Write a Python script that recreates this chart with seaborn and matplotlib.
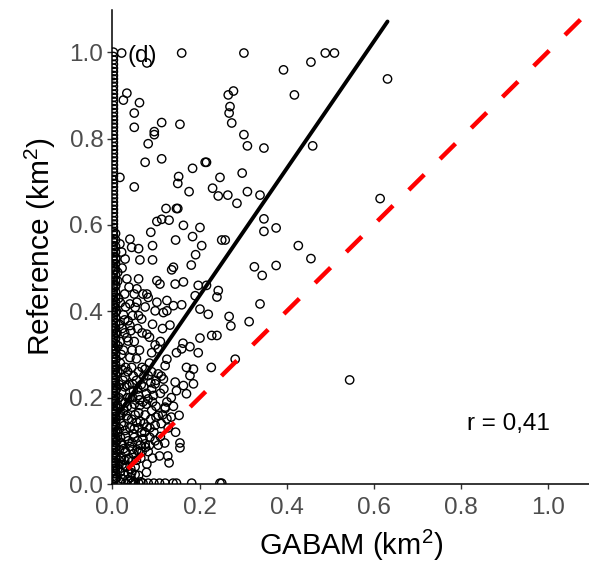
import matplotlib
matplotlib.use("Agg")
import matplotlib.pyplot as plt
import seaborn as sns
import pandas as pd

# ---------------- data ----------------
# points stacked on the Y axis (GABAM area ~ 0)
column_gabam = 0.002
column_ref = [1.0, 0.99, 0.982, 0.972, 0.963, 0.955, 0.946, 0.938, 0.93, 0.921,
              0.912, 0.903, 0.895, 0.886, 0.877, 0.869, 0.86, 0.851, 0.843, 0.834,
              0.826, 0.817, 0.808, 0.80, 0.791, 0.782, 0.774, 0.765, 0.756, 0.748,
              0.739, 0.73, 0.722, 0.713, 0.705, 0.696, 0.688, 0.679, 0.67, 0.662,
              0.653, 0.645, 0.636, 0.628, 0.619, 0.61, 0.602, 0.594, 0.585, 0.577,
              0.568, 0.56, 0.552, 0.543, 0.535, 0.527, 0.518, 0.51, 0.502, 0.494,
              0.486, 0.478, 0.47, 0.462, 0.455, 0.447, 0.44, 0.432, 0.425, 0.418,
              0.41, 0.403, 0.396, 0.389, 0.382, 0.375, 0.368, 0.361, 0.354, 0.347,
              0.34, 0.334, 0.327, 0.32, 0.314, 0.307, 0.301, 0.294, 0.288, 0.282,
              0.276, 0.27, 0.264, 0.258, 0.252, 0.246, 0.24, 0.234, 0.228, 0.222,
              0.216, 0.21, 0.204, 0.198, 0.192, 0.186, 0.18, 0.174, 0.168, 0.162,
              0.156, 0.15, 0.144, 0.138, 0.132, 0.126, 0.12, 0.114, 0.108, 0.102,
              0.096, 0.09, 0.084, 0.078, 0.072, 0.066, 0.06, 0.054, 0.048, 0.042,
              0.036, 0.03, 0.024, 0.018, 0.012, 0.006]

# second, slightly offset stack in the lower part of the Y axis
column2_gabam = 0.007
column2_ref = [0.58, 0.565, 0.55, 0.537, 0.523, 0.51, 0.497, 0.484, 0.471, 0.458,
               0.445, 0.433, 0.421, 0.409, 0.397, 0.385, 0.373, 0.361, 0.349, 0.337,
               0.325, 0.313, 0.301, 0.289, 0.277, 0.265, 0.253, 0.241, 0.229, 0.217,
               0.205, 0.193, 0.181, 0.169, 0.157, 0.145, 0.133, 0.121, 0.109, 0.097,
               0.085, 0.073, 0.061, 0.049, 0.037, 0.025, 0.013]

# points lying on the X axis (reference area ~ 0)
floor_ref = 0.002
floor_gabam = [0.03, 0.044, 0.052, 0.060, 0.070, 0.082, 0.095, 0.108, 0.121,
               0.139, 0.147, 0.182, 0.247, 0.251]

# scattered points, (GABAM, Reference)
upper_pts = [(0.021, 0.998), (0.079, 0.975), (0.159, 0.998), (0.033, 0.905), (0.025, 0.889),
             (0.062, 0.883), (0.050, 0.859), (0.050, 0.826), (0.113, 0.837), (0.155, 0.833),
             (0.096, 0.816), (0.096, 0.809), (0.082, 0.788), (0.075, 0.745), (0.113, 0.753),
             (0.184, 0.731), (0.213, 0.745), (0.216, 0.745), (0.247, 0.710), (0.152, 0.712),
             (0.017, 0.710), (0.266, 0.901), (0.278, 0.910), (0.270, 0.874), (0.268, 0.859),
             (0.274, 0.836), (0.302, 0.998), (0.489, 0.998), (0.510, 0.998), (0.456, 0.977),
             (0.393, 0.959), (0.418, 0.901), (0.302, 0.809), (0.310, 0.783), (0.348, 0.778),
             (0.460, 0.783), (0.298, 0.720), (0.632, 0.938), (0.615, 0.661)]

middle_pts = [(0.265, 0.669), (0.310, 0.677), (0.339, 0.669), (0.286, 0.650), (0.348, 0.614),
              (0.376, 0.593), (0.348, 0.585), (0.427, 0.552), (0.456, 0.522), (0.326, 0.503),
              (0.344, 0.483), (0.376, 0.506), (0.339, 0.417), (0.268, 0.388), (0.272, 0.366),
              (0.314, 0.376), (0.259, 0.565), (0.282, 0.289), (0.545, 0.241),
              (0.050, 0.688), (0.150, 0.696), (0.176, 0.677), (0.230, 0.685), (0.243, 0.667),
              (0.123, 0.638), (0.147, 0.638), (0.150, 0.638), (0.102, 0.608), (0.113, 0.613),
              (0.130, 0.611), (0.088, 0.583), (0.163, 0.599), (0.201, 0.594), (0.184, 0.573),
              (0.145, 0.565), (0.251, 0.565), (0.205, 0.552), (0.092, 0.552), (0.191, 0.531),
              (0.092, 0.519), (0.060, 0.545), (0.063, 0.519), (0.040, 0.567), (0.044, 0.548),
              (0.017, 0.556), (0.021, 0.537), (0.029, 0.521), (0.140, 0.502), (0.136, 0.496),
              (0.181, 0.507), (0.033, 0.475), (0.060, 0.475), (0.056, 0.452), (0.038, 0.456),
              (0.102, 0.471), (0.109, 0.463), (0.144, 0.463), (0.163, 0.468), (0.197, 0.460),
              (0.216, 0.460), (0.243, 0.448), (0.240, 0.433), (0.079, 0.440), (0.082, 0.432),
              (0.190, 0.436), (0.102, 0.421), (0.125, 0.425), (0.140, 0.413), (0.159, 0.415),
              (0.040, 0.417), (0.056, 0.421), (0.052, 0.409), (0.098, 0.401), (0.117, 0.397),
              (0.125, 0.401), (0.201, 0.405), (0.220, 0.393), (0.025, 0.392), (0.036, 0.378),
              (0.067, 0.382), (0.132, 0.368), (0.040, 0.367)]

lower_pts = [(0.033, 0.339), (0.036, 0.331), (0.079, 0.347), (0.162, 0.326), (0.178, 0.318),
             (0.201, 0.338), (0.228, 0.344), (0.240, 0.344), (0.098, 0.322), (0.105, 0.313),
             (0.090, 0.304), (0.147, 0.304), (0.159, 0.313), (0.197, 0.304), (0.125, 0.289),
             (0.121, 0.274), (0.040, 0.293), (0.044, 0.270), (0.170, 0.270), (0.186, 0.266),
             (0.178, 0.251), (0.227, 0.270), (0.075, 0.266), (0.082, 0.251), (0.105, 0.255),
             (0.117, 0.243), (0.098, 0.232), (0.144, 0.236), (0.163, 0.228), (0.147, 0.216),
             (0.186, 0.232), (0.170, 0.209), (0.029, 0.248), (0.033, 0.228), (0.021, 0.213),
             (0.048, 0.216), (0.060, 0.205), (0.082, 0.197), (0.094, 0.205), (0.029, 0.189),
             (0.044, 0.178), (0.063, 0.182), (0.121, 0.178), (0.090, 0.170), (0.105, 0.159),
             (0.125, 0.151), (0.017, 0.159), (0.036, 0.151), (0.056, 0.143), (0.098, 0.136),
             (0.079, 0.132), (0.029, 0.124), (0.048, 0.116), (0.067, 0.120), (0.086, 0.108),
             (0.075, 0.093), (0.155, 0.095), (0.021, 0.095), (0.040, 0.087), (0.056, 0.079),
             (0.082, 0.075), (0.127, 0.065), (0.079, 0.046), (0.021, 0.063), (0.036, 0.056),
             (0.033, 0.040), (0.044, 0.026), (0.155, 0.084), (0.130, 0.049), (0.078, 0.027),
             (0.153, 0.159), (0.121, 0.175)]

cluster_pts = [(0.008, 0.52), (0.012, 0.49), (0.007, 0.46), (0.014, 0.43), (0.009, 0.40),
               (0.016, 0.37), (0.010, 0.35), (0.022, 0.36), (0.013, 0.32), (0.025, 0.31),
               (0.008, 0.29), (0.018, 0.28), (0.030, 0.27), (0.012, 0.26), (0.055, 0.29),
               (0.062, 0.31), (0.068, 0.35), (0.050, 0.33), (0.024, 0.24), (0.038, 0.23),
               (0.009, 0.22), (0.055, 0.24), (0.066, 0.23), (0.015, 0.20), (0.040, 0.20),
               (0.070, 0.19), (0.011, 0.18), (0.026, 0.17), (0.052, 0.16), (0.075, 0.16),
               (0.008, 0.15), (0.020, 0.14), (0.040, 0.13), (0.060, 0.13), (0.012, 0.12),
               (0.030, 0.11), (0.058, 0.10), (0.070, 0.105), (0.010, 0.10), (0.016, 0.08),
               (0.030, 0.075), (0.048, 0.07), (0.065, 0.06), (0.008, 0.065), (0.022, 0.045),
               (0.012, 0.035), (0.052, 0.04), (0.028, 0.02), (0.010, 0.015), (0.060, 0.02),
               (0.018, 0.005), (0.035, 0.01), (0.090, 0.22), (0.110, 0.21), (0.100, 0.18),
               (0.088, 0.15), (0.112, 0.14), (0.095, 0.12), (0.105, 0.09), (0.068, 0.075),
               (0.092, 0.06), (0.110, 0.11), (0.135, 0.20), (0.140, 0.18), (0.128, 0.13),
               (0.145, 0.12), (0.068, 0.27), (0.085, 0.28), (0.110, 0.33), (0.115, 0.36),
               (0.092, 0.37), (0.060, 0.39), (0.075, 0.41), (0.020, 0.30), (0.045, 0.31),
               (0.035, 0.20), (0.050, 0.185), (0.078, 0.21), (0.064, 0.145), (0.085, 0.09),
               (0.045, 0.095), (0.023, 0.09), (0.038, 0.06), (0.055, 0.055), (0.015, 0.055),
               (0.030, 0.04), (0.042, 0.035), (0.048, 0.005), (0.065, 0.005)]

dense_pts = [(0.006, 0.31), (0.018, 0.33), (0.028, 0.35), (0.042, 0.355), (0.006, 0.27),
             (0.022, 0.265), (0.035, 0.26), (0.048, 0.25), (0.060, 0.26), (0.072, 0.25),
             (0.090, 0.26), (0.006, 0.235), (0.016, 0.23), (0.028, 0.225), (0.046, 0.232),
             (0.058, 0.22), (0.072, 0.225), (0.088, 0.235), (0.006, 0.195), (0.022, 0.19),
             (0.034, 0.18), (0.046, 0.20), (0.062, 0.195), (0.078, 0.185), (0.092, 0.19),
             (0.006, 0.17), (0.018, 0.165), (0.032, 0.158), (0.044, 0.15), (0.060, 0.165),
             (0.072, 0.14), (0.086, 0.13), (0.006, 0.135), (0.016, 0.128), (0.026, 0.135),
             (0.050, 0.128), (0.074, 0.12), (0.006, 0.105), (0.018, 0.108), (0.036, 0.10),
             (0.050, 0.108), (0.064, 0.09), (0.076, 0.085), (0.006, 0.085), (0.026, 0.082),
             (0.046, 0.08), (0.060, 0.075), (0.006, 0.05), (0.018, 0.06), (0.028, 0.055),
             (0.044, 0.052), (0.006, 0.03), (0.018, 0.028), (0.036, 0.025), (0.052, 0.022),
             (0.006, 0.012), (0.022, 0.012), (0.042, 0.015), (0.100, 0.24), (0.112, 0.25),
             (0.118, 0.22), (0.125, 0.19), (0.100, 0.155), (0.115, 0.16), (0.135, 0.155),
             (0.098, 0.10), (0.120, 0.095), (0.108, 0.065), (0.018, 0.42), (0.028, 0.44),
             (0.012, 0.47), (0.022, 0.50), (0.030, 0.41), (0.046, 0.39), (0.050, 0.44),
             (0.070, 0.44), (0.028, 0.38), (0.058, 0.36), (0.085, 0.34)]

# fitted regression line and 1:1 line
fit_gabam = [0.0, 0.632]
fit_ref = [0.142, 1.071]
one_gabam = [0.035, 1.12]
one_ref = [0.035, 1.12]

tick_vals = [0.0, 0.2, 0.4, 0.6, 0.8, 1.0]
tick_labels = ["0.0", "0.2", "0.4", "0.6", "0.8", "1.0"]
panel_label = "(d)"
r_label = "r = 0,41"

# ---------------- build table ----------------
gabam = ([column_gabam] * len(column_ref) + [column2_gabam] * len(column2_ref)
         + floor_gabam)
ref = column_ref + column2_ref + [floor_ref] * len(floor_gabam)
for grp in (upper_pts, middle_pts, lower_pts, cluster_pts, dense_pts):
    gabam += [p[0] for p in grp]
    ref += [p[1] for p in grp]
df = pd.DataFrame({"gabam": gabam, "ref": ref})

# ---------------- plot ----------------
sns.set_theme(style="ticks")
plt.rcParams['font.family'] = ['Liberation Sans', 'DejaVu Sans']
plt.rcParams['mathtext.fontset'] = 'custom'
plt.rcParams['mathtext.rm'] = 'Liberation Sans'

fig = plt.figure(figsize=(5.89, 5.72), dpi=100)
ax = fig.add_axes([0.191, 0.1538, 0.809, 0.829])

sns.scatterplot(data=df, x="gabam", y="ref", ax=ax, facecolor="none",
                edgecolor="black", s=36, linewidth=1.0, legend=False, zorder=2)
sns.lineplot(x=fit_gabam, y=fit_ref, ax=ax, color="black", linewidth=2.8,
             zorder=3, sort=False)
sns.lineplot(x=one_gabam, y=one_ref, ax=ax, color="#FF0000", linewidth=3.2,
             linestyle=(0, (4.9, 5.0)), zorder=4, sort=False)

ax.set_xlim(0, 1.095)
ax.set_ylim(0, 1.098)
ax.set_xticks(tick_vals)
ax.set_xticklabels(tick_labels)
ax.set_yticks(tick_vals)
ax.set_yticklabels(tick_labels)
ax.tick_params(direction="out", length=3.6, width=1.0, color="#333333",
               labelcolor="#4D4D4D", labelsize=17.5)
ax.tick_params(axis="x", pad=6)
ax.tick_params(axis="y", pad=3)
for side in ("top", "right"):
    ax.spines[side].set_visible(False)
for side in ("left", "bottom"):
    ax.spines[side].set_linewidth(1.1)
    ax.spines[side].set_color("black")

ax.set_xlabel(r"GABAM (km$\mathregular{^2}$)", fontsize=21, color="black", labelpad=6)
ax.set_ylabel(r"Reference (km$\mathregular{^2}$)", fontsize=21.5, color="black", labelpad=8)

ax.text(0.035, 0.99, panel_label, fontsize=17.5, color="black", ha="left", va="center")
ax.text(0.815, 0.14, r_label, fontsize=17.5, color="black", ha="left", va="center")

fig.savefig("out.png", dpi=100)
